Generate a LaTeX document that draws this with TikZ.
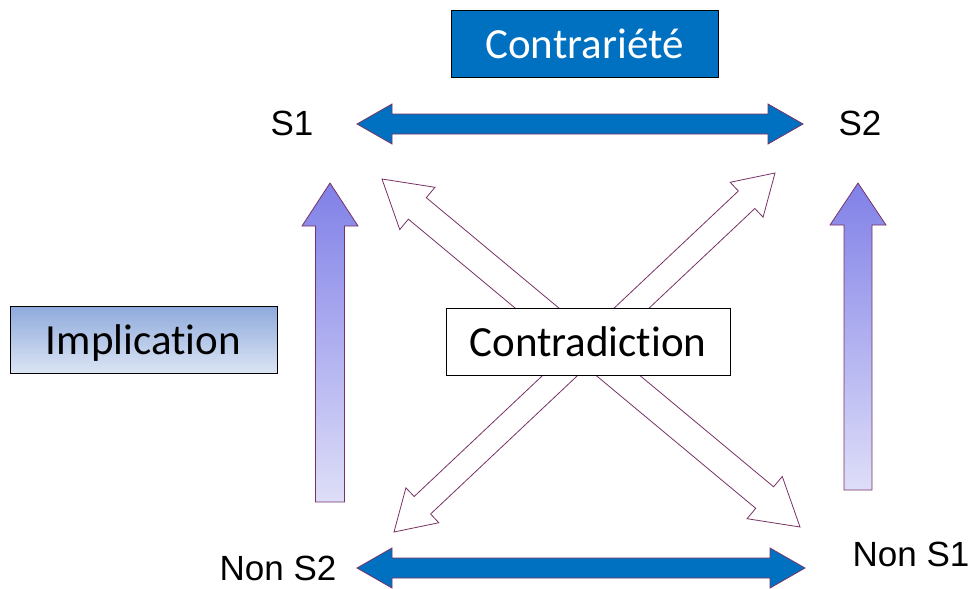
\documentclass[tikz,border=0pt]{standalone}
\usepackage{fontspec}
\setmainfont[Ligatures=NoCommon]{Carlito}
\newfontfamily\arialfont{Liberation Sans}
\usetikzlibrary{calc}
\definecolor{darkblue}{RGB}{0,112,192}
\definecolor{arrowline}{RGB}{120,50,100}
\definecolor{lightblue}{RGB}{143,170,220}
\definecolor{paleblue}{RGB}{220,229,244}
\definecolor{violettop}{RGB}{128,128,232}
\definecolor{violetbot}{RGB}{222,222,248}

% block arrows: {from}{to}{half head}{half shaft}{head length}{style}
\newcommand{\dblarrow}[6]{%
  \draw[#6] (#1) -- ($(#1)!#5!(#2)!#3!-90:(#2)$) -- ($(#1)!#5!(#2)!#4!-90:(#2)$)
    -- ($(#2)!#5!(#1)!#4!90:(#1)$) -- ($(#2)!#5!(#1)!#3!90:(#1)$) -- (#2)
    -- ($(#2)!#5!(#1)!#3!-90:(#1)$) -- ($(#2)!#5!(#1)!#4!-90:(#1)$)
    -- ($(#1)!#5!(#2)!#4!90:(#2)$) -- ($(#1)!#5!(#2)!#3!90:(#2)$) -- cycle;}
% {tail}{tip}{half head}{half shaft}{head length}{style}
\newcommand{\sglarrow}[6]{%
  \draw[#6] (#2) -- ($(#2)!#5!(#1)!#3!90:(#1)$) -- ($(#2)!#5!(#1)!#4!90:(#1)$)
    -- ($(#1)!#4!-90:(#2)$) -- ($(#1)!#4!90:(#2)$)
    -- ($(#2)!#5!(#1)!#4!-90:(#1)$) -- ($(#2)!#5!(#1)!#3!-90:(#1)$) -- cycle;}

\begin{document}
\begin{tikzpicture}[x=1pt, y=-1pt,
    term/.style={font=\arialfont\fontsize{35}{40}\selectfont, inner sep=0pt},
    box/.style={draw=black, minimum width=267pt, minimum height=67pt, inner sep=0pt,
      font=\fontsize{43}{50}\selectfont, text height=29pt, text depth=0pt},
    blue arrow/.style={fill=darkblue, draw=arrowline, line width=0.8pt},
    up arrow/.style={top color=violettop, bottom color=violetbot, draw=arrowline, line width=0.8pt},
    cross arrow/.style={fill=white, draw=arrowline, line width=0.8pt}]
    \useasboundingbox (0,0) rectangle (972,589);
    % terms of the square
    \node[term] (s1) at (292,123) {S1};
    \node[term] (s2) at (860,123) {S2};
    \node[term] (nons2) at (278,568) {Non S2};
    \node[term] (nons1) at (911,554) {Non S1};
    %
    \coordinate (topa) at (357,124);
    \coordinate (topb) at (803,124);
    \coordinate (bota) at (357,568);
    \coordinate (botb) at (805,568);
    \coordinate (lefta) at (330,502);
    \coordinate (leftb) at (330,183);
    \coordinate (righta) at (858,490);
    \coordinate (rightb) at (858,183);
    \coordinate (diaga) at (382,179);
    \coordinate (diagb) at (800,527);
    \coordinate (diagc) at (775,173);
    \coordinate (diagd) at (394,532);
    %
    \dblarrow{topa}{topb}{20pt}{10pt}{35pt}{blue arrow}
    \dblarrow{bota}{botb}{20pt}{10pt}{35pt}{blue arrow}
    \sglarrow{lefta}{leftb}{28pt}{14.5pt}{43pt}{up arrow}
    \sglarrow{righta}{rightb}{28pt}{14pt}{42pt}{up arrow}
    \dblarrow{diaga}{diagb}{27.5pt}{14pt}{46pt}{cross arrow}
    \dblarrow{diagc}{diagd}{24pt}{12pt}{39pt}{cross arrow}
    %
    \node[box, fill=darkblue, text=white] (contrariete) at (584.5,43.5) {Contrariété};
    \node[box, top color=lightblue, bottom color=paleblue] (implication) at (143.5,340) {Implication};
    \node[box, fill=white, minimum width=284pt] (contradiction) at (588,341.5) {Contradiction};
\end{tikzpicture}
\end{document}
